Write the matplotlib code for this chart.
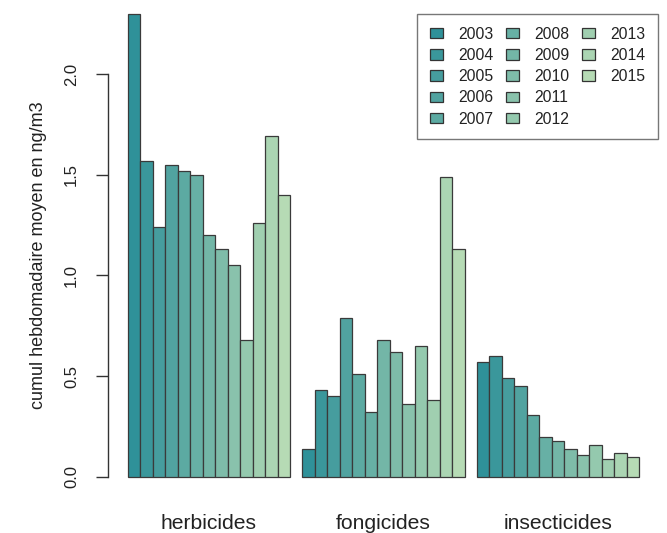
import numpy as np
import matplotlib
matplotlib.use("Agg")
import matplotlib.pyplot as plt
from matplotlib.patches import Patch
from matplotlib.colors import to_rgb

plt.rcParams['font.family'] = ['Liberation Sans', 'DejaVu Sans']

# Weekly cumulative mean concentrations (ng/m3) by pesticide family and year
years = ["2003", "2004", "2005", "2006", "2007", "2008", "2009",
         "2010", "2011", "2012", "2013", "2014", "2015"]
families = ["herbicides", "fongicides", "insecticides"]

herbicides = [2.30, 1.57, 1.24, 1.55, 1.52, 1.50, 1.20,
              1.13, 1.05, 0.68, 1.26, 1.69, 1.40]
fongicides = [0.14, 0.43, 0.40, 0.79, 0.51, 0.32, 0.68,
              0.62, 0.36, 0.65, 0.38, 1.49, 1.13]
insecticides = [0.57, 0.60, 0.49, 0.45, 0.31, 0.20, 0.18,
                0.14, 0.11, 0.16, 0.09, 0.12, 0.10]

yticks = [0.0, 0.5, 1.0, 1.5, 2.0]
ytick_labels = ["0.0", "0.5", "1.0", "1.5", "2.0"]

values = [herbicides, fongicides, insecticides]

# Colour ramp from teal to pale green, one colour per year
c0 = np.array(to_rgb("#2f9199"))
c1 = np.array(to_rgb("#b6dbb5"))
n = len(years)
colors = [tuple(c0 + (c1 - c0) * k / (n - 1)) for k in range(n)]

W, H = 667, 533
fig = plt.figure(figsize=(W / 100, H / 100), dpi=100)

left_px, right_px, top_px, bottom_px = 107.5, 659.5, 14, 495.5
ax = fig.add_axes([left_px / W, 1 - bottom_px / H,
                   (right_px - left_px) / W, (bottom_px - top_px) / H])

# Grouped bars: no gap inside a group, one bar width between groups
for g, vals in enumerate(values):
    lefts = [1 + (n + 1) * g + i for i in range(n)]
    ax.bar(lefts, vals, width=1.0, align='edge', color=colors,
           edgecolor='#3a3a3a', linewidth=0.9, clip_on=False)

total = 3 * (n + 1)
xmin, xmax = 1, total
ext = 0.04 * (xmax - xmin)
ax.set_xlim(xmin - ext, xmax + ext)
ax.set_ylim(-0.092, (477 - top_px) / 201.5)

ax.set_xticks([1 + (n + 1) * g + n / 2 for g in range(3)])
ax.set_xticklabels(families, fontsize=15.2, color='#222222')
ax.tick_params(axis='x', length=0, pad=13)

ax.set_yticks(yticks)
ax.set_yticklabels(ytick_labels, rotation=90, va='center',
                   fontsize=12, color='#222222')
ax.tick_params(axis='y', length=8.5, width=1, color='#333333', pad=12)

for s in ['top', 'right', 'bottom']:
    ax.spines[s].set_visible(False)
ax.spines['left'].set_bounds(0, 2.0)
ax.spines['left'].set_color('#333333')
ax.spines['left'].set_linewidth(1)

ax.set_ylabel("cumul hebdomadaire moyen en ng/m3", fontsize=13,
              color='#222222', labelpad=12)

# Legend filled column by column: 5 + 5 + 3 entries, padded with blanks
handles = [Patch(facecolor=colors[k], edgecolor='#333333', linewidth=0.9)
           for k in range(n)]
labels = list(years)
for _ in range(2):
    handles.append(Patch(facecolor='none', edgecolor='none'))
    labels.append("")
leg = fig.legend(handles, labels, ncol=3, loc='upper right',
                 bbox_to_anchor=(658 / W, 1 - 14 / H),
                 fontsize=11.3, frameon=True, fancybox=False,
                 handlelength=0.85, handleheight=0.65, handletextpad=0.95,
                 columnspacing=0.8, labelspacing=0.4, borderpad=0.8,
                 borderaxespad=0)
leg.get_frame().set_edgecolor('#555555')
leg.get_frame().set_linewidth(1.0)
for t in leg.get_texts():
    t.set_color('#222222')

fig.savefig("out.png", dpi=100)
